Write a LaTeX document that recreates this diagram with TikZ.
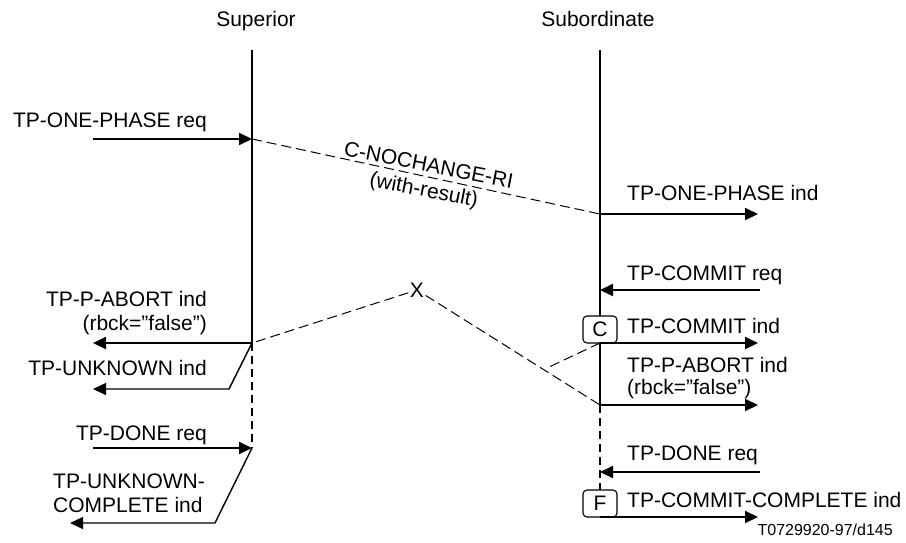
\documentclass[tikz,border=0pt]{standalone}
\usepackage{fontspec}
\setmainfont{Liberation Sans}
\usetikzlibrary{arrows.meta}
\newcommand{\sq}{\symbol{34}}
\begin{document}
\begin{tikzpicture}[x=1pt,y=-1pt,
  lbl/.style={font=\fontsize{21}{25}\selectfont, inner sep=0pt},
  small/.style={font=\fontsize{16}{19}\selectfont, inner sep=0pt},
  life/.style={line width=2.3pt},
  lifedash/.style={line width=2.3pt, dash pattern=on 8pt off 5pt},
  msg/.style={line width=2pt, -{Triangle[length=13pt,width=12pt]}},
  thinmsg/.style={line width=1.4pt, -{Triangle[length=13pt,width=12pt]}},
  pdu/.style={line width=1pt, dash pattern=on 10pt off 5pt},
  flag/.style={draw, fill=white, rounded corners=4pt, line width=1.1pt,
    minimum width=34pt, minimum height=27pt, inner sep=0pt,
    font=\fontsize{21}{25}\selectfont}
]
\useasboundingbox (0,0) rectangle (906,542);

% titles
\node[lbl, anchor=base] (tsup) at (256,26) {Superior};
\node[lbl, anchor=base] (tsub) at (598,26) {Subordinate};

% lifeline coordinates
\coordinate (sTop) at (252,50);
\coordinate (sOne) at (252,139);
\coordinate (sAbort) at (252,343);
\coordinate (sDone) at (252,448);
\coordinate (bTop) at (600,50);
\coordinate (bOne) at (600,214);
\coordinate (bCR) at (600,290);
\coordinate (bCommit) at (600,343);
\coordinate (bAbort) at (600,405);
\coordinate (bDone) at (600,472);
\coordinate (bFin) at (600,517);

% lifelines
\draw[life] (sTop) -- (sAbort);
\draw[lifedash] (sAbort) -- (sDone);
\draw[life] (bTop) -- (bAbort);
\draw[lifedash] (bAbort) -- (bFin);

% flags
\node[flag] (cbox) at (600,329.5) {C};
\node[flag] (fbox) at (600,503.5) {F};

% free ends
\coordinate (a1) at (93,139);
\coordinate (a2) at (93,343);
\coordinate (k3) at (229,389);
\coordinate (a3) at (93,389);
\coordinate (a4) at (93,448);
\coordinate (k5) at (215,523);
\coordinate (a5) at (70,523);
\coordinate (b1) at (758,214);
\coordinate (b2) at (760,290);
\coordinate (b3) at (758,343);
\coordinate (b4) at (758,405);
\coordinate (b5) at (760,472);
\coordinate (b6) at (758,517);

% superior messages
\draw[msg] (a1) -- (sOne);
\draw[msg] (sAbort) -- (a2);
\draw[thinmsg] (sAbort) -- (k3) -- (a3);
\draw[msg] (a4) -- (sDone);
\draw[thinmsg] (sDone) -- (k5) -- (a5);

% subordinate messages
\draw[msg] (bOne) -- (b1);
\draw[msg] (b2) -- (bCR);
\draw[msg] (bCommit) -- (b3);
\draw[msg] (bAbort) -- (b4);
\draw[msg] (b5) -- (bDone);
\draw[msg] (bFin) -- (b6);

% PDUs
\draw[pdu] (sOne) -- (bOne);
\node[lbl, rotate=-11, align=center] (cnc) at (426,179) {C-NOCHANGE-RI\\(with-result)};
\node[lbl, inner sep=1.5pt] (X) at (417,290) {X};
\draw[pdu] (X) -- (sAbort);
\draw[pdu] (X) -- (bAbort);
\coordinate (cr) at (547,368);
\draw[pdu] (bCommit) -- (cr);

% superior labels
\node[lbl, anchor=base east] (l1) at (207,127) {TP-ONE-PHASE req};
\node[lbl, anchor=base east] (l2a) at (207,306) {TP-P-ABORT ind};
\node[lbl, anchor=base east] (l2b) at (207,330) {(rbck=\sq false\sq)};
\node[lbl, anchor=base east] (l3) at (207,375) {TP-UNKNOWN ind};
\node[lbl, anchor=base east] (l4) at (207,440) {TP-DONE req};
\node[lbl, anchor=base west] (l5a) at (53,488) {TP-UNKNOWN-};
\node[lbl, anchor=base west] (l5b) at (53,512) {COMPLETE ind};

% subordinate labels
\node[lbl, anchor=base west] (r1) at (627,200) {TP-ONE-PHASE ind};
\node[lbl, anchor=base west] (r2) at (627,280) {TP-COMMIT req};
\node[lbl, anchor=base west] (r3) at (627,333) {TP-COMMIT ind};
\node[lbl, anchor=base west] (r4a) at (627,372) {TP-P-ABORT ind};
\node[lbl, anchor=base west] (r4b) at (627,394) {(rbck=\sq false\sq)};
\node[lbl, anchor=base west] (r5) at (627,460) {TP-DONE req};
\node[lbl, anchor=base west] (r6) at (627,507) {TP-COMMIT-COMPLETE ind};

\node[small, anchor=base east] (ref) at (893,535) {T0729920-97/d145};
\end{tikzpicture}
\end{document}
